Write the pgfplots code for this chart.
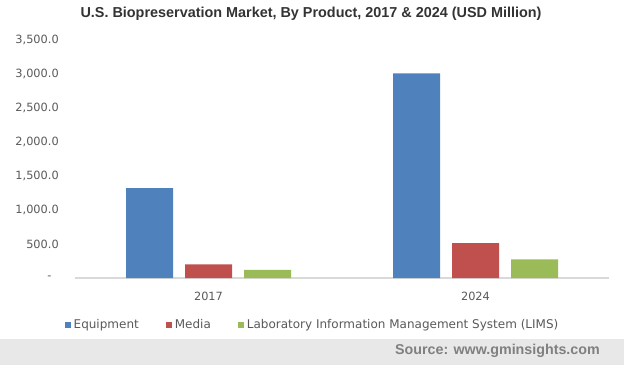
\documentclass[border=0pt]{standalone}
\usepackage{fontspec}
\setmainfont{DejaVu Sans}
\newfontfamily\arialfont{Liberation Sans}
\usepackage{pgfplots}
\pgfplotsset{compat=1.18}
\definecolor{cEquip}{HTML}{4F81BD}
\definecolor{cMedia}{HTML}{C0504D}
\definecolor{cLims}{HTML}{9BBB59}
\definecolor{txt}{HTML}{595959}
\definecolor{axisline}{HTML}{D9D9D9}
\definecolor{band}{HTML}{E8E8E8}
\begin{document}
\begin{tikzpicture}
\begin{axis}[
  at={(0,0)}, anchor=south west,
  scale only axis,
  width=400.5pt, height=178.5pt,
  ybar=9pt, bar width=35.25pt,
  xmin=-0.5, xmax=1.5, ymin=0, ymax=3500,
  xtick={0,1}, xticklabels={2017,2024},
  ytick={0,500,1000,1500,2000,2500,3000,3500},
  yticklabels={{-\hphantom{0}},{500.0},{1,000.0},{1,500.0},{2,000.0},{2,500.0},{3,000.0},{3,500.0}},
  axis lines*=left,
  y axis line style={draw=none},
  x axis line style={draw=axisline, line width=0.8pt},
  major tick length=0pt,
  tick style={draw=none},
  every tick label/.append style={font=\fontsize{8.5}{10}\selectfont, text=txt, inner sep=0pt},
  yticklabel style={anchor=east, xshift=-12pt},
  xticklabel style={anchor=north, yshift=-10pt},
  clip=false,
  legend columns=3,
  legend style={at={(-0.0187,-0.197)}, anchor=west, draw=none, fill=none,
    inner sep=0pt, outer sep=0pt,
    font=\fontsize{9}{10}\selectfont, text=txt,
    /tikz/every even column/.append style={column sep=18.5pt},
    legend cell align=left},
  legend image code/.code={\fill[#1] (0pt,-2.25pt) rectangle (4.5pt,2.25pt);},
]
\addplot[draw=none, fill=cEquip] coordinates {(0,1320) (1,3010)};
\addplot[draw=none, fill=cMedia] coordinates {(0,200) (1,512)};
\addplot[draw=none, fill=cLims] coordinates {(0,120) (1,275)};
\legend{Equipment,Media,Laboratory Information Management System (LIMS)}
\end{axis}
\fill[band] (-56.25pt,-65.25pt) rectangle (411.75pt,-45.75pt);
\node[anchor=east, inner sep=0pt, text=black!50, font=\arialfont\bfseries\fontsize{10.7}{12}\selectfont] at (393.75pt,-54.5pt) {Source: www.gminsights.com};
\node[anchor=center, inner sep=0pt, text=black!80, font=\arialfont\bfseries\fontsize{10.8}{12}\selectfont] at (177pt,198pt) {U.S. Biopreservation Market, By Product, 2017 \& 2024 (USD Million)};
\pgfresetboundingbox
\useasboundingbox (-56.25pt,-65.25pt) rectangle (411.75pt,208.5pt);
\end{tikzpicture}
\end{document}
